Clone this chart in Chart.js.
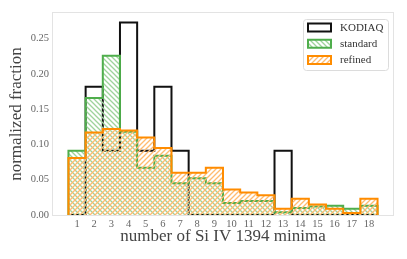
<!DOCTYPE html>
<html>
<head>
<meta charset="utf-8">
<script src="https://cdn.jsdelivr.net/npm/chart.js@4.4.1/dist/chart.umd.min.js"></script>
<style>
  html, body { margin: 0; padding: 0; background: #fff; }
  #wrap { width: 407px; height: 259px; }
</style>
</head>
<body>
<div id="wrap"><canvas id="histChart" width="407" height="259"></canvas></div>
<script>
// number of minima (bin centres)
const categories = [1, 2, 3, 4, 5, 6, 7, 8, 9, 10, 11, 12, 13, 14, 15, 16, 17, 18];

// normalized fractions
const kodiaq   = [0, 0.182, 0.091, 0.273, 0.091, 0.182, 0.091, 0, 0, 0, 0, 0, 0.091, 0, 0, 0, 0, 0];
const standard = [0.091, 0.166, 0.226, 0.118, 0.067, 0.084, 0.045, 0.052, 0.045, 0.017, 0.020, 0.020, 0.004, 0.010, 0.012, 0.013, 0.009, 0.013];
const refined  = [0.081, 0.117, 0.122, 0.120, 0.110, 0.095, 0.060, 0.060, 0.067, 0.036, 0.032, 0.028, 0.009, 0.023, 0.015, 0.009, 0.003, 0.023];

const yTicks = [0, 0.05, 0.10, 0.15, 0.20, 0.25];
const labels = ['KODIAQ', 'standard', 'refined'];

const SERIF = '"Liberation Serif", "DejaVu Serif", serif';
const GREEN = '#4fae4c';
const ORANGE = '#ff8c00';

// step outline: value of bin i holds from its left edge to its right edge
function stepPoints(vals) {
    const pts = [{ x: categories[0] - 0.5, y: 0 }];
    vals.forEach((v, i) => pts.push({ x: categories[i] - 0.5, y: v }));
    const last = categories.length - 1;
    pts.push({ x: categories[last] + 0.5, y: vals[last] });
    pts.push({ x: categories[last] + 0.5, y: 0 });
    return pts;
}

// hatch tile, dir '/' or '\'
function hatch(color, dir) {
    const s = 5;
    const c = document.createElement('canvas');
    c.width = s; c.height = s;
    const g = c.getContext('2d');
    g.strokeStyle = color;
    g.lineWidth = 1.3;
    g.beginPath();
    if (dir === '/') {
        g.moveTo(-1, s + 1); g.lineTo(s + 1, -1);
        g.moveTo(-1, 1); g.lineTo(1, -1);
        g.moveTo(s - 1, s + 1); g.lineTo(s + 1, s - 1);
    } else {
        g.moveTo(-1, -1); g.lineTo(s + 1, s + 1);
        g.moveTo(s - 1, -1); g.lineTo(s + 1, 1);
        g.moveTo(-1, s - 1); g.lineTo(1, s + 1);
    }
    g.stroke();
    return g.createPattern(c, 'repeat');
}

const greenHatch = hatch('#9ed39b', '\\');
const orangeHatch = hatch('#ffbb70', '/');

// light frame round the plot area
const framePlugin = {
    id: 'frame',
    beforeDatasetsDraw(chart) {
        const { ctx, chartArea: a } = chart;
        ctx.save();
        ctx.strokeStyle = '#e3e3e3';
        ctx.lineWidth = 1;
        ctx.strokeRect(a.left - 0.5, a.top - 0.5, a.right - a.left + 1, a.bottom - a.top + 1);
        ctx.restore();
    }
};

// matplotlib-like legend box in the upper right
const legendPlugin = {
    id: 'boxLegend',
    afterDraw(chart) {
        const { ctx, chartArea: a } = chart;
        const bx = a.right - 90, by = a.top + 6, bw = 85, bh = 51;
        ctx.save();
        ctx.fillStyle = '#fff';
        ctx.strokeStyle = '#dcdcdc';
        ctx.lineWidth = 1;
        ctx.beginPath();
        ctx.roundRect(bx + 0.5, by + 0.5, bw, bh, 3);
        ctx.fill();
        ctx.stroke();

        chart.data.datasets.forEach((ds, i) => {
            const cy = by + 8.5 + i * 16.3;
            const px = bx + 5, pw = 23, ph = 8;
            ctx.save();
            ctx.beginPath();
            ctx.rect(px, cy - ph / 2, pw, ph);
            ctx.fillStyle = '#fff';
            ctx.fill();
            if (ds.backgroundColor && ds.fill) {
                ctx.fillStyle = ds.backgroundColor;
                ctx.fill();
            }
            ctx.lineWidth = 2;
            ctx.strokeStyle = ds.borderColor;
            ctx.stroke();
            ctx.restore();

            ctx.fillStyle = '#333';
            ctx.font = '11px ' + SERIF;
            ctx.textBaseline = 'middle';
            ctx.textAlign = 'left';
            ctx.fillText(ds.label, bx + 37, cy + 0.5);
        });
        ctx.restore();
    }
};

const ctx = document.getElementById('histChart');

new Chart(ctx.getContext('2d'), {
    type: 'line',
    data: {
        datasets: [
            {
                label: labels[0],
                data: stepPoints(kodiaq),
                stepped: true,
                borderColor: '#111',
                borderWidth: 2,
                fill: false,
                pointRadius: 0,
                clip: 0,
                order: 3
            },
            {
                label: labels[1],
                data: stepPoints(standard),
                stepped: true,
                borderColor: GREEN,
                backgroundColor: greenHatch,
                borderWidth: 2,
                fill: 'origin',
                pointRadius: 0,
                clip: 0,
                order: 2
            },
            {
                label: labels[2],
                data: stepPoints(refined),
                stepped: true,
                borderColor: ORANGE,
                backgroundColor: orangeHatch,
                borderWidth: 2,
                fill: 'origin',
                pointRadius: 0,
                clip: 0,
                order: 1
            }
        ]
    },
    options: {
        responsive: false,
        animation: false,
        devicePixelRatio: 1,
        layout: { padding: { top: 13, right: 14, left: 0, bottom: 0 } },
        plugins: {
            legend: { display: false },
            tooltip: { enabled: false }
        },
        scales: {
            x: {
                type: 'linear',
                min: -0.4,
                max: 19.4,
                afterBuildTicks: (s) => { s.ticks = categories.map(v => ({ value: v })); },
                afterFit: (s) => { s.height = 44; },
                grid: { display: false, drawTicks: false },
                border: { display: false },
                ticks: {
                    autoSkip: false,
                    maxRotation: 0,
                    padding: 3,
                    color: '#666',
                    font: { family: SERIF, size: 10.5 }
                },
                title: {
                    display: true,
                    text: 'number of Si IV 1394 minima',
                    color: '#444',
                    font: { family: SERIF, size: 17 },
                    padding: { top: 0, bottom: 12 }
                }
            },
            y: {
                min: 0,
                max: 0.2865,
                afterBuildTicks: (s) => { s.ticks = yTicks.map(v => ({ value: v })); },
                afterFit: (s) => { s.width = 53; },
                grid: { display: false, drawTicks: false },
                border: { display: false },
                ticks: {
                    padding: 4,
                    color: '#666',
                    font: { family: SERIF, size: 10.5 },
                    callback: (v) => Number(v).toFixed(2)
                },
                title: {
                    display: true,
                    text: 'normalized fraction',
                    color: '#444',
                    font: { family: SERIF, size: 17 },
                    padding: { top: 6, bottom: 0 }
                }
            }
        }
    },
    plugins: [framePlugin, legendPlugin]
});
</script>
</body>
</html>
